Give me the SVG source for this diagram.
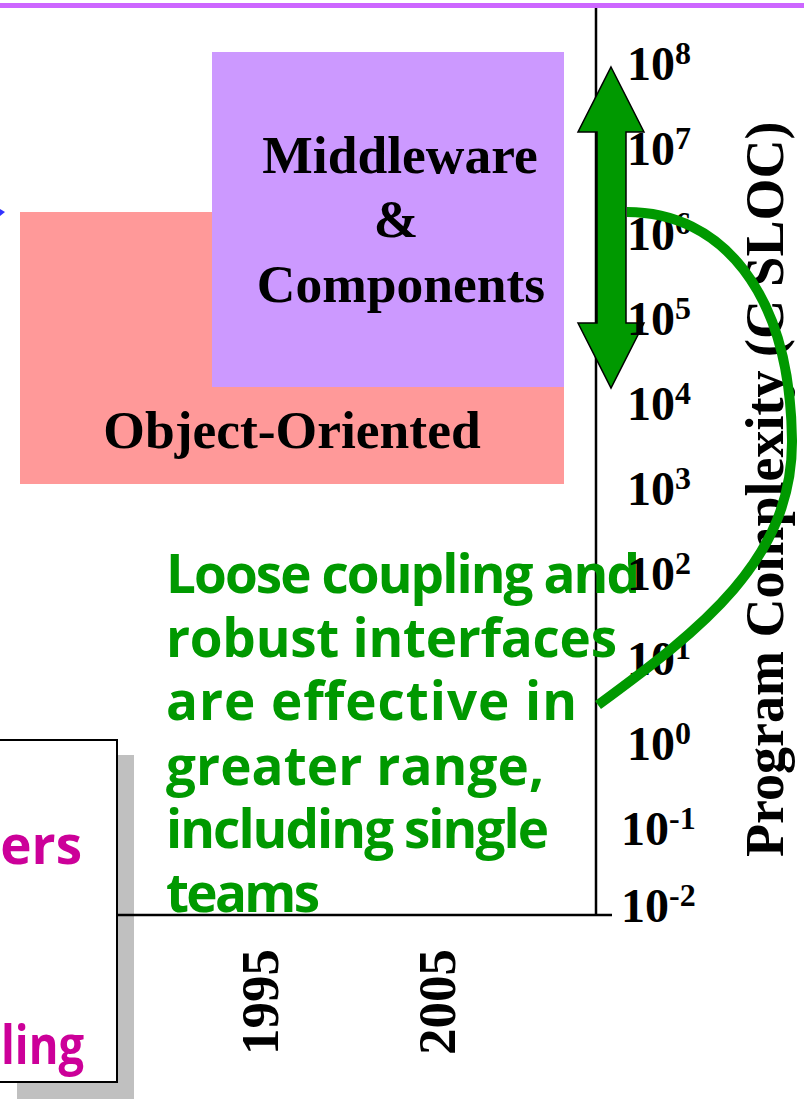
<svg xmlns="http://www.w3.org/2000/svg" width="804" height="1102" viewBox="0 0 804 1102">
<style>
.serif{font-family:"Liberation Serif","Times New Roman",serif;font-weight:bold;fill:#000}
.tick{font-size:48px}
.sup{font-size:32px}
.hand{font-family:"Open Sans","Liberation Sans",sans-serif;font-weight:bold;font-size:53px}
.green{fill:#009900}
.mag{fill:#CC0099}
</style>
<rect width="804" height="1102" fill="#fff"/>
<rect x="0" y="3" width="804" height="5" fill="#CC66FF"/>

<g id="node-object-oriented">
<rect x="20" y="212" width="544" height="272" fill="#FF9999"/>
<text class="serif" x="292" y="448" font-size="53.5" text-anchor="middle">Object-Oriented</text>
</g>

<g id="node-middleware">
<rect x="212" y="52" width="352" height="335" fill="#CC99FF"/>
<text class="serif" font-size="53.5" text-anchor="middle"><tspan x="400" y="173">Middleware</tspan><tspan x="396" y="237">&amp;</tspan><tspan x="401" y="302">Components</tspan></text>
</g>

<g id="node-left-box">
<rect x="17" y="755" width="117" height="344" fill="#C0C0C0"/>
<rect x="-2" y="740" width="119" height="342" fill="#fff" stroke="#000" stroke-width="2"/>
<text class="hand mag" x="82" y="864" text-anchor="end">ers</text>
<text class="hand mag" x="1" y="1064" textLength="83" lengthAdjust="spacingAndGlyphs">ling</text>
</g>

<g id="axes">
<line x1="596" y1="8" x2="596" y2="916" stroke="#000" stroke-width="2.5"/>
<line x1="117" y1="915" x2="612" y2="915" stroke="#000" stroke-width="2.5"/>
</g>

<g id="node-note">
<text class="hand green" x="166" y="593" textLength="474">Loose coupling and</text>
<text class="hand green" x="166" y="657" textLength="451">robust interfaces</text>
<text class="hand green" x="166" y="720" textLength="411">are effective in</text>
<text class="hand green" x="166" y="785" textLength="378">greater range,</text>
<text class="hand green" x="166" y="848" textLength="383">including single</text>
<text class="hand green" x="166" y="912" textLength="154">teams</text>
</g>

<g id="connectors">
<polygon points="611,67 644,132 626,132 626,323 644,323 611,388 578,323 597,323 597,132 578,132" fill="#009900" stroke="#000" stroke-width="1.5" stroke-linejoin="miter"/>
<polygon points="5,212 0,209 0,216" fill="#3333FF"/>
</g>

<g id="node-y-axis-labels">
<text class="serif tick" x="627" y="80">10<tspan class="sup" dy="-16">8</tspan></text>
<text class="serif tick" x="627" y="165">10<tspan class="sup" dy="-16">7</tspan></text>
<text class="serif tick" x="627" y="250">10<tspan class="sup" dy="-16">6</tspan></text>
<text class="serif tick" x="627" y="335">10<tspan class="sup" dy="-16">5</tspan></text>
<text class="serif tick" x="627" y="420">10<tspan class="sup" dy="-16">4</tspan></text>
<text class="serif tick" x="627" y="505">10<tspan class="sup" dy="-16">3</tspan></text>
<text class="serif tick" x="627" y="590">10<tspan class="sup" dy="-16">2</tspan></text>
<text class="serif tick" x="627" y="675">10<tspan class="sup" dy="-16">1</tspan></text>
<text class="serif tick" x="627" y="760">10<tspan class="sup" dy="-16">0</tspan></text>
<text class="serif tick" x="621" y="845">10<tspan class="sup" dy="-16">-1</tspan></text>
<text class="serif tick" x="621" y="922">10<tspan class="sup" dy="-16">-2</tspan></text>
</g>

<g id="node-axis-title">
<text class="serif" font-size="54" transform="translate(783,857) rotate(-90)">Program Complexity (C SLOC)</text>
</g>

<g id="node-years">
<text class="serif" font-size="53" transform="translate(278,1055) rotate(-90)">1995</text>
<text class="serif" font-size="53" transform="translate(455,1055) rotate(-90)">2005</text>
</g>

<g id="connector-curve">
<path d="M 627 212 C 720 212, 790 290, 792 440 C 793 560, 700 630, 598 705" fill="none" stroke="#009900" stroke-width="10"/>
</g>
</svg>
